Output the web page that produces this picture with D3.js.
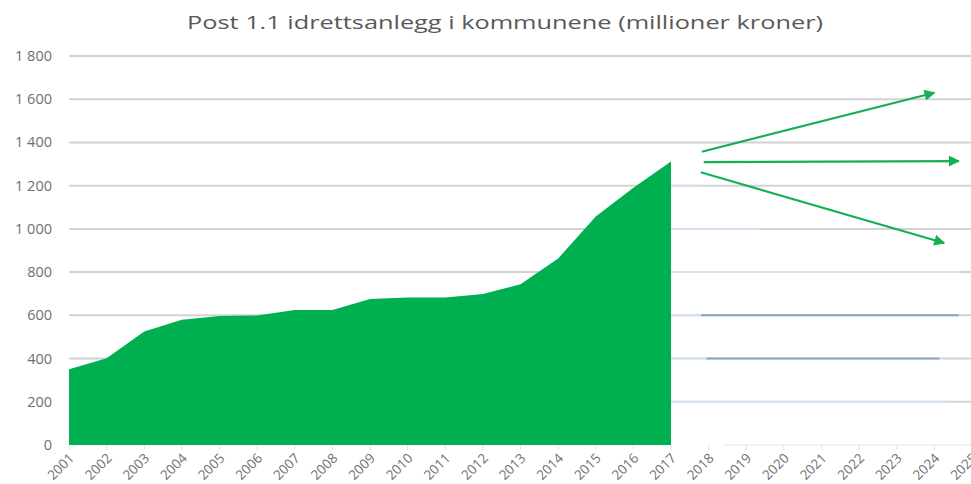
<!DOCTYPE html>
<html>
<head>
<meta charset="utf-8">
<script src="https://cdn.jsdelivr.net/npm/d3@7"></script>
<style>
  body { margin: 0; background: #fff; }
  svg { display: block; }
</style>
</head>
<body>
<div id="chart"></div>
<script>
// Post 1.1 idrettsanlegg i kommunene

let years = [2001, 2002, 2003, 2004, 2005, 2006, 2007, 2008, 2009,
             2010, 2011, 2012, 2013, 2014, 2015, 2016, 2017];
let values = [350, 401, 525, 579, 597, 599, 625, 625, 676,
              682, 682, 699, 744, 863, 1057, 1190, 1312];

let axisYears = d3.range(2001, 2026);
let yTicks = [0, 200, 400, 600, 800, 1000, 1200, 1400, 1600, 1800];

// three scenario arrows (year, value)
let arrowFrom = [[2017.82, 1357], [2017.87, 1309], [2017.79, 1262]];
let arrowTo   = [[2024.0, 1630], [2024.65, 1314], [2024.26, 935]];

// leftover line pieces in the pasted right half (value, fromYear, toYear, kind)
let patches = [
  [1200, 2017, 2017.8, "light"],
  [1000, 2017, 2019.35, "light"],
  [800, 2017, 2024.7, "light"],
  [600, 2017, 2017.8, "light"],
  [600, 2017.8, 2024.65, "dark"],
  [400, 2016.3, 2017.95, "light"],
  [400, 2017.95, 2024.13, "dark"],
  [200, 2015.7, 2024.4, "light"]
];

let width = 971, height = 484;
let svg = d3.select("#chart").append("svg")
  .attr("width", width).attr("height", height);

let x = d3.scaleLinear().domain([2001, 2025]).range([69, 972]);
let y = d3.scaleLinear().domain([0, 1800]).range([445, 56]);

let fmt = d3.formatLocale({ decimal: ",", thousands: " ", grouping: [3], currency: ["", ""] }).format(",d");

// gridlines
svg.append("g")
  .selectAll("line")
  .data(yTicks.filter(d => d > 0))
  .enter().append("line")
  .attr("x1", x(2001)).attr("x2", width)
  .attr("y1", d => y(d)).attr("y2", d => y(d))
  .attr("stroke", "#d2d2d2").attr("stroke-width", 2);

// patch pieces over the gridlines on the right side
svg.append("g")
  .selectAll("line")
  .data(patches)
  .enter().append("line")
  .attr("x1", d => x(d[1])).attr("x2", d => x(d[2]))
  .attr("y1", d => y(d[0])).attr("y2", d => y(d[0]))
  .attr("stroke", d => d[3] == "dark" ? "#8ea3bf" : "#d3e3f4")
  .attr("stroke-width", 2);

// axis line on the right + ticks
svg.append("line")
  .attr("x1", x(2018.4)).attr("x2", width)
  .attr("y1", y(0)).attr("y2", y(0))
  .attr("stroke", "#e6e6e6").attr("stroke-width", 1);

svg.append("g")
  .selectAll("line")
  .data(axisYears)
  .enter().append("line")
  .attr("x1", d => x(d)).attr("x2", d => x(d))
  .attr("y1", y(0)).attr("y2", y(0) + 5)
  .attr("stroke", "#e2e2e2").attr("stroke-width", 1);

// the area
let area = d3.area()
  .x((d, i) => x(years[i]))
  .y0(y(0))
  .y1(d => y(d));

svg.append("path")
  .datum(values)
  .attr("d", area)
  .attr("fill", "#00b050");

// y labels
svg.append("g")
  .selectAll("text")
  .data(yTicks)
  .enter().append("text")
  .attr("x", 52)
  .attr("y", d => y(d) + 5)
  .attr("text-anchor", "end")
  .attr("font-family", "Open Sans, sans-serif")
  .attr("font-size", 14.5)
  .attr("fill", "#707070")
  .text(d => fmt(d));

// x labels, rotated (the last one runs off the edge, as in the original)
svg.append("g")
  .selectAll("text")
  .data(axisYears)
  .enter().append("text")
  .attr("transform", d => "translate(" + (x(d) + 6) + "," + 459 + ") rotate(-45)")
  .attr("text-anchor", "end")
  .attr("font-family", "Open Sans, sans-serif")
  .attr("font-size", 13.5)
  .attr("fill", "#707070")
  .text(d => d);

// arrows
svg.append("defs").append("marker")
  .attr("id", "head")
  .attr("viewBox", "0 0 10 10")
  .attr("refX", 9).attr("refY", 5)
  .attr("markerWidth", 6).attr("markerHeight", 5)
  .attr("orient", "auto")
  .attr("markerUnits", "strokeWidth")
  .append("path")
  .attr("d", "M0,0 L10,5 L0,10 Z")
  .attr("fill", "#13b151");

svg.append("g")
  .selectAll("line")
  .data(arrowFrom)
  .enter().append("line")
  .attr("x1", d => x(d[0])).attr("y1", d => y(d[1]))
  .attr("x2", (d, i) => x(arrowTo[i][0])).attr("y2", (d, i) => y(arrowTo[i][1]))
  .attr("stroke", "#13b151").attr("stroke-width", 2.2)
  .attr("marker-end", "url(#head)");

// title
svg.append("text")
  .attr("x", 505).attr("y", 29)
  .attr("text-anchor", "middle")
  .attr("font-family", "Open Sans, sans-serif")
  .attr("font-size", 19)
  .attr("fill", "#595959")
  .attr("textLength", 636)
  .attr("lengthAdjust", "spacingAndGlyphs")
  .text("Post 1.1 idrettsanlegg i kommunene (millioner kroner)");
</script>
</body>
</html>
